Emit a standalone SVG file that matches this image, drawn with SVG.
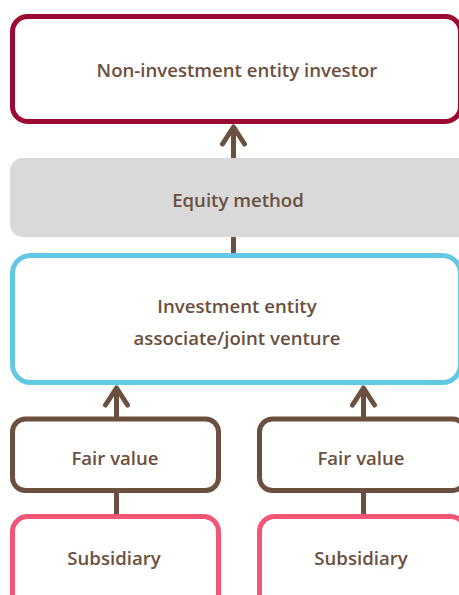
<svg xmlns="http://www.w3.org/2000/svg" width="459" height="595" viewBox="0 0 459 595">
<style>
.t{font-family:"Open Sans","Noto Sans",sans-serif;font-size:18.6px;font-weight:600;fill:#6b5040;text-anchor:middle}
.box{fill:#fff;stroke-width:5}
.con{stroke:#6b5040;stroke-width:5;fill:none}
.head{stroke:#6b5040;stroke-width:5;fill:none;stroke-linecap:round;stroke-linejoin:round}
</style>
<rect width="459" height="595" fill="#fff"/>
<g id="connectors">
<line class="con" x1="233.5" y1="128" x2="233.5" y2="158"/>
<polyline class="head" points="222.5,144 233.5,127 244.5,144"/>
<line class="con" x1="233.5" y1="237" x2="233.5" y2="256"/>
<line class="con" x1="116.5" y1="388" x2="116.5" y2="419"/>
<polyline class="head" points="105.5,405 116.5,388 127.5,405"/>
<line class="con" x1="363.5" y1="388" x2="363.5" y2="419"/>
<polyline class="head" points="352.5,405 363.5,388 374.5,405"/>
<line class="con" x1="116.5" y1="490" x2="116.5" y2="517"/>
<line class="con" x1="363.5" y1="490" x2="363.5" y2="517"/>
</g>
<g id="investor">
<rect class="box" x="12.5" y="16.5" width="448" height="105" rx="15" stroke="#9c0a33"/>
<text class="t" x="237" y="77">Non-investment entity investor</text>
</g>
<g id="equity">
<rect x="10" y="158" width="462" height="79" rx="13" fill="#d9d9d9"/>
<text class="t" x="238" y="207">Equity method</text>
</g>
<g id="associate">
<rect class="box" x="12.5" y="255.5" width="448" height="127" rx="18" stroke="#63c8e3"/>
<text class="t" x="237" y="313">Investment entity</text>
<text class="t" x="237" y="345">associate/joint venture</text>
</g>
<g id="fv1">
<rect class="box" x="12.5" y="419" width="206" height="71.5" rx="13" stroke="#6b5040"/>
<text class="t" x="115" y="465">Fair value</text>
</g>
<g id="fv2">
<rect class="box" x="259.5" y="419" width="206" height="71.5" rx="13" stroke="#6b5040"/>
<text class="t" x="361" y="465">Fair value</text>
</g>
<g id="sub1">
<rect class="box" x="12.5" y="516.5" width="206" height="100" rx="15" stroke="#f25676"/>
<text class="t" x="114" y="565">Subsidiary</text>
</g>
<g id="sub2">
<rect class="box" x="259.5" y="516.5" width="206" height="100" rx="15" stroke="#f25676"/>
<text class="t" x="361" y="565">Subsidiary</text>
</g>
</svg>
